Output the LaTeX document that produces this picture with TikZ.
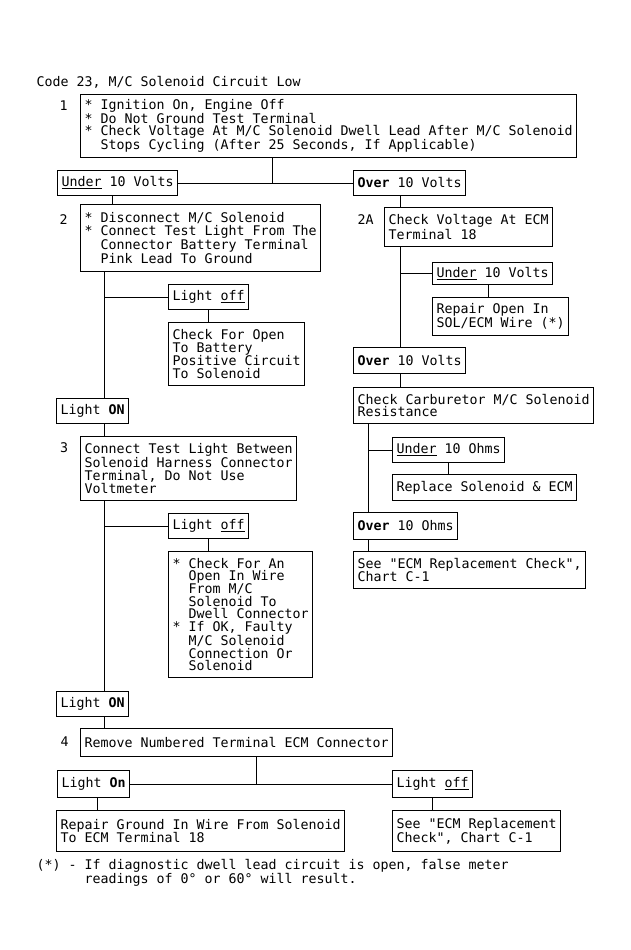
\documentclass[tikz,border=0pt]{standalone}
\usepackage{fontspec}
\setmonofont{DejaVu Sans Mono}
\frenchspacing
\newcommand{\ind}{\hspace*{16pt}}
\tikzset{
    chart/.style={x=1pt, y=-1pt, line width=1pt},
    txt/.style={font=\ttfamily\fontsize{13.29pt}{12.7pt}\selectfont, inner sep=0pt, align=left},
    box/.style={txt, draw, anchor=north west, inner xsep=4pt, inner ysep=0pt},
    tag/.style={txt, anchor=base}
}

\begin{document}
\begin{tikzpicture}[chart]
\fill[white] (0,0) rectangle (631,950);
\useasboundingbox (0,0) rectangle (631,950);

\node[txt, anchor=base west] (title) at (36,86) {Code 23, M/C Solenoid Circuit Low};

% step 1
\node[tag] (n1) at (63.5,110.5) {1};
\node[box, minimum height=63pt] (s1) at (80,94) {* Ignition On, Engine Off\\* Do Not Ground Test Terminal\\* Check Voltage At M/C Solenoid Dwell Lead After M/C Solenoid\\\ind Stops Cycling (After 25 Seconds, If Applicable)};
\node[box, minimum height=25pt] (under1) at (57,170) {\underline{Under} 10 Volts};
\node[box, minimum height=25pt] (over1) at (353,170) {\textbf{Over} 10 Volts};
\coordinate (j1) at (272,182.5);
\draw (s1.south -| j1) -- (j1);
\draw (under1) -- (over1);

% left column
\coordinate (tu) at (112,0);
\coordinate (tl) at (104,0);
\node[tag] (n2) at (63.5,224) {2};
\node[box, minimum height=67pt] (s2) at (80,204) {* Disconnect M/C Solenoid\\* Connect Test Light From The\\\ind Connector Battery Terminal\\\ind Pink Lead To Ground};
\draw (under1.south -| tu) -- (s2.north -| tu);
\node[box, minimum height=25pt] (offa) at (168,284) {Light \underline{off}};
\node[box, minimum height=63pt] (chkopen) at (168,322) {Check For Open\\To Battery\\Positive Circuit\\To Solenoid};
\node[box, minimum height=25pt] (on1) at (56,398) {Light \textbf{ON}};
\draw (s2.south -| tl) -- (on1.north -| tl);
\draw (offa.west -| tl) -- (offa.west);
\draw (offa.south) -- (offa.south |- chkopen.north);

\node[tag] (n3) at (64,452.7) {3};
\node[box, minimum height=64pt] (s3) at (80,436) {Connect Test Light Between\\Solenoid Harness Connector\\Terminal, Do Not Use\\Voltmeter};
\draw (on1.south -| tl) -- (s3.north -| tl);
\node[box, minimum height=25pt] (offb) at (168,513) {Light \underline{off}};
\node[box, minimum height=126pt] (chkwire) at (168,551) {* Check For An\\\ind Open In Wire\\\ind From M/C\\\ind Solenoid To\\\ind Dwell Connector\\* If OK, Faulty\\\ind M/C Solenoid\\\ind Connection Or\\\ind Solenoid};
\node[box, minimum height=25pt] (on2) at (56,691) {Light \textbf{ON}};
\draw (s3.south -| tl) -- (on2.north -| tl);
\draw (offb.west -| tl) -- (offb.west);
\draw (offb.south) -- (offb.south |- chkwire.north);

% step 4
\node[tag] (n4) at (64.6,746.8) {4};
\node[box, minimum height=28pt] (s4) at (80,728) {Remove Numbered Terminal ECM Connector};
\draw (on2.south -| tl) -- (s4.north -| tl);
\node[box, minimum height=27pt] (on4) at (57,770) {Light \textbf{On}};
\node[box, minimum height=27pt] (off4) at (392,770) {Light \underline{off}};
\coordinate (j4) at (256,783.5);
\coordinate (tg) at (97,0);
\draw (s4.south -| j4) -- (j4);
\draw (on4) -- (off4);
\node[box, minimum height=41pt] (repgnd) at (56,810) {Repair Ground In Wire From Solenoid\\To ECM Terminal 18};
\node[box, minimum height=41pt] (seeb) at (392,810) {See "ECM Replacement\\Check", Chart C-1};
\draw (on4.south -| tg) -- (repgnd.north -| tg);
\draw (off4.south) -- (off4.south |- seeb.north);

% right column
\coordinate (tr) at (400,0);
\coordinate (tq) at (488,0);
\coordinate (tc) at (368,0);
\node[tag] (n2a) at (365.5,224) {2A};
\node[box, minimum height=39pt] (s2a) at (384,207) {Check Voltage At ECM\\Terminal 18};
\draw (over1.south -| tr) -- (s2a.north -| tr);
\node[box, minimum height=22pt] (undr) at (432,262) {\underline{Under} 10 Volts};
\node[box, minimum height=38pt] (repopen) at (432,297) {Repair Open In\\SOL/ECM Wire (*)};
\node[box, minimum height=26pt] (over2) at (353,347) {\textbf{Over} 10 Volts};
\draw (s2a.south -| tr) -- (over2.north -| tr);
\draw (undr.west -| tr) -- (undr.west);
\draw (undr.south -| tq) -- (repopen.north -| tq);

\node[box, minimum height=36pt] (carb) at (353,387) {Check Carburetor M/C Solenoid\\Resistance};
\draw (over2.south -| tr) -- (carb.north -| tr);
\node[box, minimum height=25pt] (undohm) at (392,437) {\underline{Under} 10 Ohms};
\node[box, minimum height=26pt] (replace) at (392,474) {Replace Solenoid \& ECM};
\node[box, minimum height=27pt] (overohm) at (353,512) {\textbf{Over} 10 Ohms};
\node[box, minimum height=37pt] (seea) at (353,551) {See "ECM Replacement Check",\\Chart C-1};
\draw (carb.south -| tc) -- (overohm.north -| tc);
\draw (undohm.west -| tc) -- (undohm.west);
\draw (undohm.south) -- (undohm.south |- replace.north);
\draw (overohm.south -| tc) -- (seea.north -| tc);

% footnote
\node[txt, anchor=north west] (foot) at (36,859) {(*) - If diagnostic dwell lead circuit is open, false meter\\\hspace*{48pt}readings of 0° or 60° will result.};
\end{tikzpicture}
\end{document}
